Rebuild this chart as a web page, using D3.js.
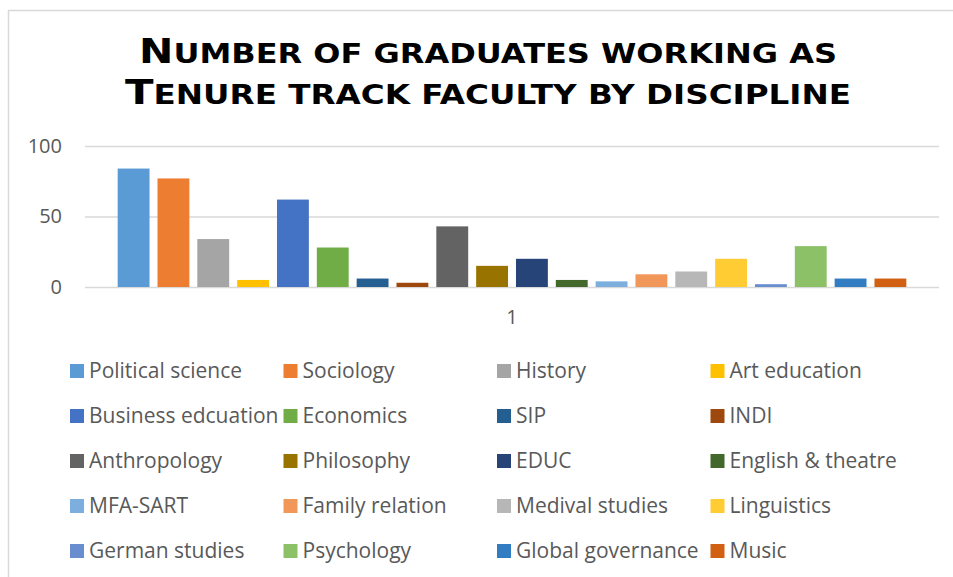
<!DOCTYPE html>
<html>
  <head>
    <script src="https://d3js.org/d3.v7.min.js"></script>
    <title>Tenure track faculty by discipline</title>
    <style>
      body { margin: 0; background: #fff; }
      text { font-family: "Open Sans", sans-serif; fill: #595959; }
    </style>
  </head>
  <body>
    <div id="container"></div>
    <script>
    // data
    const disciplines = ['Political science', 'Sociology', 'History', 'Art education',
      'Business edcuation', 'Economics', 'SIP', 'INDI',
      'Anthropology', 'Philosophy', 'EDUC', 'English & theatre',
      'MFA-SART', 'Family relation', 'Medival studies', 'Linguistics',
      'German studies', 'Psychology', 'Global governance', 'Music'];
    const graduates = [84, 77, 34, 5, 62, 28, 6, 3, 43, 15, 20, 5, 4, 9, 11, 20, 2, 29, 6, 6];
    const colors = ['#5B9BD5', '#ED7D31', '#A5A5A5', '#FFC000', '#4472C4', '#70AD47', '#255E91', '#9E480E',
      '#636363', '#997300', '#264478', '#43682B', '#7CAFDD', '#F1975A', '#B7B7B7', '#FFCD33',
      '#698ED0', '#8CC168', '#327DC2', '#D26012'];
    const categories = ['1'];
    const yTicks = [0, 50, 100];
    const titleLines = ['Number of graduates working as', 'Tenure track faculty by discipline'];

    const w = 953, h = 577;
    const plotLeft = 85, plotRight = 939, plotTop = 146, plotBottom = 287;

    const svg = d3.select('#container').append('svg')
      .attr('width', w).attr('height', h);

    // chart frame
    svg.append('rect')
      .attr('x', 8.5).attr('y', 10.5)
      .attr('width', 960).attr('height', 600)
      .attr('fill', '#fff')
      .attr('stroke', '#d9d9d9').attr('stroke-width', 1.5);

    // title, small caps done by hand: capitals big, the rest as smaller capitals
    const title = svg.selectAll('.title')
      .data(titleLines)
      .enter()
      .append('text')
      .attr('class', 'title')
      .attr('x', 488)
      .attr('y', (d, i) => 63 + i * 41)
      .attr('text-anchor', 'middle')
      .attr('textLength', (d, i) => i === 0 ? 698 : 726)
      .attr('lengthAdjust', 'spacingAndGlyphs')
      .style('font-family', '"DejaVu Sans", sans-serif')
      .style('font-weight', 'bold')
      .style('fill', '#000');

    title.selectAll('tspan')
      .data(d => d.match(/[A-Z]+|[^A-Z]+/g))
      .enter()
      .append('tspan')
      .style('font-size', d => /[A-Z]/.test(d) ? '34px' : '26.5px')
      .text(d => d.toUpperCase());

    const x0 = d3.scaleBand()
      .domain(categories)
      .range([plotLeft, plotRight])
      .paddingOuter(0.036);

    const x1 = d3.scaleBand()
      .domain(disciplines)
      .range([0, x0.bandwidth()])
      .paddingInner(0.2)
      .paddingOuter(0.1);

    const y = d3.scaleLinear()
      .domain([0, 100])
      .range([plotBottom, plotTop]);

    // gridlines + y labels
    const yAxis = d3.axisLeft(y)
      .tickValues(yTicks)
      .tickSize(-(plotRight - plotLeft))
      .tickPadding(23);

    const gy = svg.append('g')
      .attr('transform', `translate(${plotLeft},0)`)
      .call(yAxis);
    gy.select('.domain').remove();
    gy.selectAll('line').attr('stroke', '#d9d9d9').attr('stroke-width', 1.5);
    gy.selectAll('text')
      .style('font-size', '20px')
      .style('fill', '#595959');

    // bars
    const groups = svg.selectAll('.cat')
      .data(categories)
      .enter()
      .append('g')
      .attr('class', 'cat')
      .attr('transform', d => `translate(${x0(d)},0)`);

    groups.selectAll('rect')
      .data(disciplines.map((name, i) => ({ name, value: graduates[i], color: colors[i] })))
      .enter()
      .append('rect')
      .attr('x', d => x1(d.name))
      .attr('y', d => y(d.value))
      .attr('width', x1.bandwidth())
      .attr('height', d => y(0) - y(d.value))
      .attr('fill', d => d.color);

    // category axis
    const xAxis = d3.axisBottom(x0).tickSize(0).tickPadding(23);
    const gx = svg.append('g')
      .attr('transform', `translate(0,${plotBottom})`)
      .call(xAxis);
    gx.select('.domain').remove();
    gx.selectAll('text').style('font-size', '20px').style('fill', '#595959');

    // legend: 4 columns, 5 rows
    const legend = svg.selectAll('.legend')
      .data(disciplines)
      .enter()
      .append('g')
      .attr('class', 'legend')
      .attr('transform', (d, i) => `translate(${70 + (i % 4) * 213.5},${371 + Math.floor(i / 4) * 45})`);

    legend.append('rect')
      .attr('x', 0).attr('y', -7)
      .attr('width', 14).attr('height', 14)
      .attr('fill', (d, i) => colors[i]);

    legend.append('text')
      .attr('x', 19)
      .attr('y', 0)
      .attr('dy', '0.35em')
      .style('font-size', '21px')
      .text(d => d);
    </script>
  </body>
</html>
